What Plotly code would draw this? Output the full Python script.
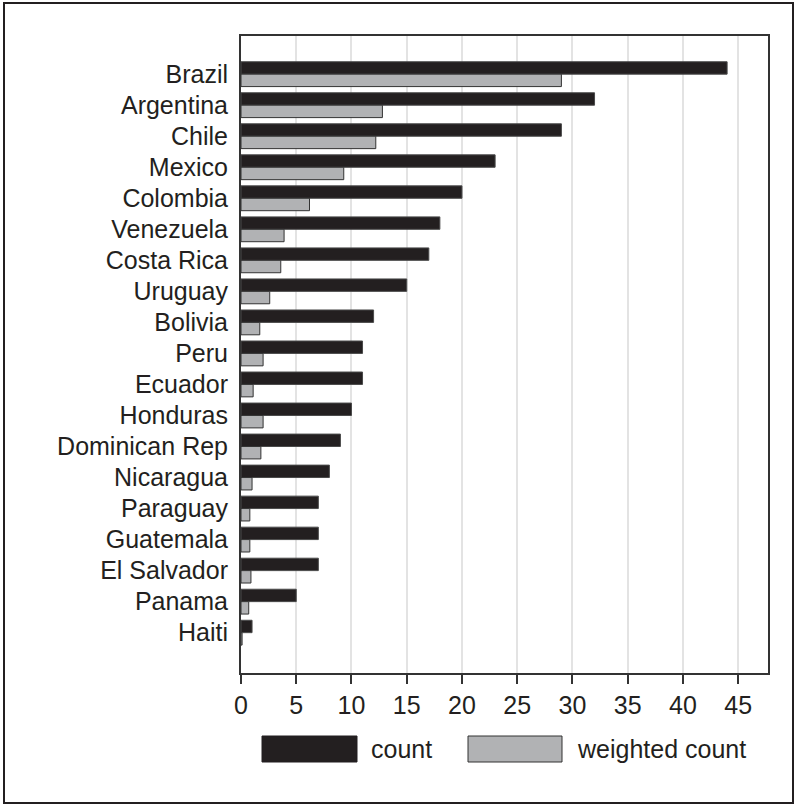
import plotly.graph_objects as go

countries = ["Brazil", "Argentina", "Chile", "Mexico", "Colombia", "Venezuela",
             "Costa Rica", "Uruguay", "Bolivia", "Peru", "Ecuador", "Honduras",
             "Dominican Rep", "Nicaragua", "Paraguay", "Guatemala", "El Salvador",
             "Panama", "Haiti"]
count = [44, 32, 29, 23, 20, 18, 17, 15, 12, 11, 11, 10, 9, 8, 7, 7, 7, 5, 1]
weighted_count = [29.0, 12.8, 12.2, 9.3, 6.2, 3.9, 3.6, 2.6, 1.7, 2.0, 1.1, 2.0,
                  1.8, 1.0, 0.8, 0.8, 0.9, 0.7, 0.1]
x_ticks = [0, 5, 10, 15, 20, 25, 30, 35, 40, 45]

DARK = "#231f20"
GREY = "#b1b2b4"
FONT = "Liberation Sans, Arial, sans-serif"
FS = 25

W, H = 797, 808
L, R, T, B = 241, 768, 36, 673
pw, ph = R - L, B - T

def px(x):
    return (x - L) / pw

def py(y):
    return (B - y) / ph

fig = go.Figure()
fig.add_trace(go.Bar(y=countries, x=count, orientation="h", name="count",
                     marker=dict(color=DARK, line=dict(color="#4a4a4a", width=1))))
fig.add_trace(go.Bar(y=countries, x=weighted_count, orientation="h", name="weighted count",
                     marker=dict(color=GREY, line=dict(color="#333333", width=1))))

fig.update_layout(
    width=W, height=H,
    margin=dict(l=L, r=W - R, t=T, b=H - B),
    paper_bgcolor="white", plot_bgcolor="white",
    barmode="group", bargap=0.2, bargroupgap=0,
    showlegend=False,
    font=dict(family=FONT, size=FS, color=DARK),
)
fig.update_xaxes(range=[0, 47.7], tickvals=x_ticks, ticktext=[str(v) for v in x_ticks],
                 showgrid=True, gridcolor="#e3e3e3", gridwidth=2,
                 showline=True, linecolor="#333333", linewidth=2, mirror=True,
                 ticks="outside", ticklen=9, tickwidth=2, tickcolor="#333333",
                 zeroline=False, tickfont=dict(size=FS, color=DARK))
fig.update_yaxes(type="category", categoryorder="array", categoryarray=countries,
                 range=[19.3, -1.23], showgrid=False,
                 showline=True, linecolor="#333333", linewidth=2, mirror=True,
                 ticks="outside", ticklen=6, tickcolor="rgba(0,0,0,0)",
                 tickfont=dict(size=FS, color=DARK))

# outer frame
fig.add_shape(type="rect", xref="paper", yref="paper",
              x0=px(4), x1=px(793), y0=py(803), y1=py(3),
              line=dict(color=DARK, width=2), fillcolor="rgba(0,0,0,0)")

# legend swatches and labels
fig.add_shape(type="rect", xref="paper", yref="paper",
              x0=px(262), x1=px(357), y0=py(762), y1=py(736),
              line=dict(color=DARK, width=1), fillcolor=DARK)
fig.add_shape(type="rect", xref="paper", yref="paper",
              x0=px(468), x1=px(562), y0=py(762), y1=py(736),
              line=dict(color="#333333", width=1), fillcolor=GREY)
fig.add_annotation(xref="paper", yref="paper", x=px(369), y=py(749),
                   text="count", showarrow=False, xanchor="left", yanchor="middle",
                   font=dict(size=FS, color=DARK, family=FONT))
fig.add_annotation(xref="paper", yref="paper", x=px(575), y=py(749),
                   text="weighted count", showarrow=False, xanchor="left", yanchor="middle",
                   font=dict(size=FS, color=DARK, family=FONT))

fig.write_html("out.html", config={"displayModeBar": False},
               post_script="document.body.style.margin='0';document.body.style.overflow='hidden';")
